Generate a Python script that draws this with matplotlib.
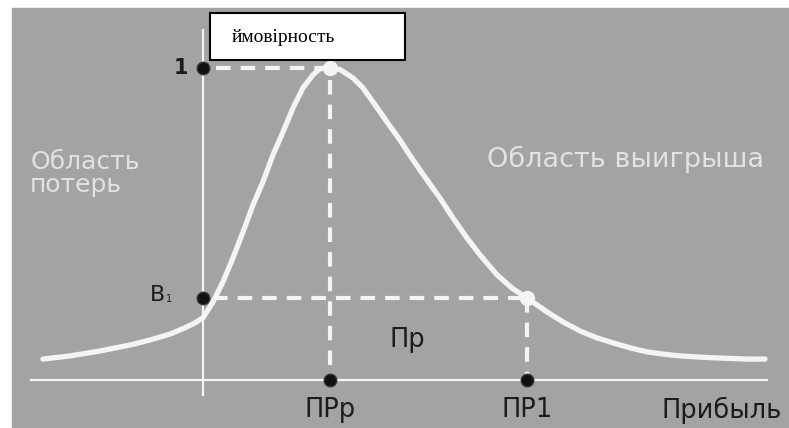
import matplotlib
matplotlib.use("Agg")
import matplotlib.pyplot as plt
from matplotlib.patches import Rectangle

# curve: profit (x, ПРр = 1) vs probability (y, peak = 1)
curve_x = [-1.260, -1.047, -0.811, -0.575, -0.417, -0.260, -0.142, -0.063, 0.000,
           0.079, 0.157, 0.236, 0.315, 0.394, 0.472, 0.551, 0.630, 0.709, 0.787,
           0.866, 0.921, 1.000, 1.079, 1.181, 1.260, 1.339, 1.449, 1.551, 1.654,
           1.764, 1.866, 1.969, 2.079, 2.181, 2.315, 2.441, 2.551, 2.709, 2.835,
           2.969, 3.102, 3.228, 3.362, 3.496, 3.622, 3.756, 4.016, 4.283, 4.425]
curve_y = [0.067, 0.077, 0.093, 0.112, 0.128, 0.147, 0.167, 0.183, 0.199,
           0.250, 0.314, 0.391, 0.474, 0.561, 0.635, 0.721, 0.795, 0.872, 0.936,
           0.978, 0.998, 1.000, 0.995, 0.968, 0.936, 0.891, 0.827, 0.769, 0.705,
           0.641, 0.583, 0.519, 0.455, 0.401, 0.337, 0.292, 0.263, 0.218, 0.186,
           0.157, 0.135, 0.119, 0.103, 0.090, 0.083, 0.077, 0.071, 0.067, 0.067]

pr_p = 1.00     # ПРр, most probable profit
pr_1 = 2.55     # ПР1
p_max = 1.0     # probability at the peak
b1 = 0.263      # В1

x_labels = ["ПРр", "ПР1"]
x_label_pos = [pr_p, pr_1]

bg = "#a3a3a3"
white = "#f4f4f4"
light = "#e2e2e2"
dark = "#1c1c1c"

fig = plt.figure(figsize=(7.89, 4.28), dpi=100)
ax = fig.add_axes([0, 0, 1, 1])
ax.set_xlim(-1.598, 4.614)
ax.set_ylim(-0.154, 1.218)
ax.axis("off")

# scanned grey panel
ax.add_patch(Rectangle((0.015, 0), 0.985, 0.981, transform=ax.transAxes,
                       color=bg, zorder=0))

# axes lines
ax.plot([-1.35, 4.44], [0, 0], color=white, lw=1.6, zorder=2)
ax.plot([0, 0], [-0.048, 1.122], color=white, lw=1.6, zorder=2)

# dashed guides
dash = dict(color=white, lw=3, dashes=(3.5, 2.4), zorder=2)
ax.plot([0.1, pr_p - 0.05], [p_max, p_max], **dash)
ax.plot([pr_p, pr_p], [p_max - 0.04, 0.02], **dash)
ax.plot([0.08, pr_1 - 0.05], [b1, b1], **dash)
ax.plot([pr_1, pr_1], [b1, 0.02], **dash)

# distribution curve
ax.plot(curve_x, curve_y, color=white, lw=3.8, solid_capstyle="round",
        solid_joinstyle="round", zorder=3)

# points
ax.plot([pr_p, pr_1], [p_max, b1], "o", color=white, ms=10, zorder=4)
ax.plot([0, 0] + x_label_pos, [p_max, b1, 0, 0], "o", color="#111111",
        mec="#333333", ms=9, zorder=5)

# labels
ax.text(-0.12, p_max, "1", ha="right", va="center", fontsize=15,
        fontweight="bold", color=dark, family="DejaVu Sans")
ax.text(-0.30, b1 + 0.008, "В", ha="right", va="center", fontsize=16,
        color=dark, family="DejaVu Sans")
ax.text(-0.29, b1 - 0.005, "1", ha="left", va="center", fontsize=7,
        color=dark, family="DejaVu Sans")
for lab, xp in zip(x_labels, x_label_pos):
    ax.text(xp, -0.096, lab, ha="center", va="center", fontsize=18.5,
            color=dark, family="DejaVu Sans")
ax.text(4.56, -0.096, "Прибыль", ha="right", va="center", fontsize=18.5,
        color=dark, family="DejaVu Sans")
ax.text(1.61, 0.128, "Пр", ha="center", va="center", fontsize=18.5,
        color=dark, family="DejaVu Sans")

ax.text(-1.36, 0.603, "Область\nпотерь", ha="left", va="baseline", fontsize=18,
        color=light, linespacing=0.95, family="DejaVu Sans")
ax.text(2.237, 0.683, "Область выигрыша", ha="left", va="baseline", fontsize=19.5,
        color=light, family="DejaVu Sans")

# title box
ax.add_patch(Rectangle((0.055, 1.026), 1.535, 0.150, facecolor="white",
                       edgecolor="black", lw=1.5, zorder=6))
ax.text(0.23, 1.099, "ймовірность", ha="left", va="center", fontsize=14,
        color="black", family="Liberation Serif", zorder=7)

fig.savefig("out.png", dpi=100)
